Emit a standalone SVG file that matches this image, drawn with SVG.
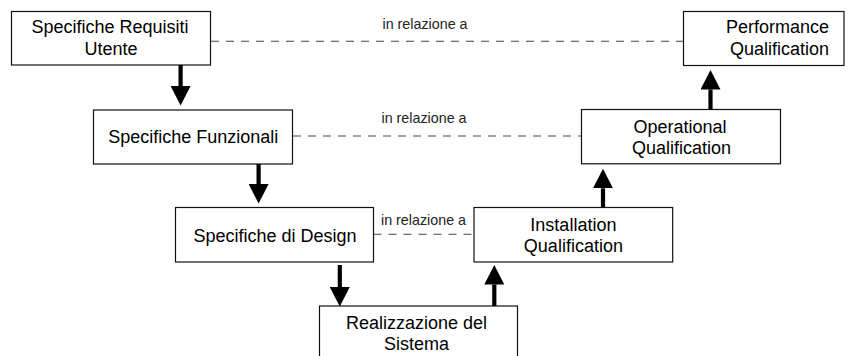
<svg xmlns="http://www.w3.org/2000/svg" width="863" height="356" viewBox="0 0 863 356">
<style>
.box{fill:#fff;stroke:#111;stroke-width:1.2}
.t{font-family:"Liberation Sans",Arial,Helvetica,sans-serif;font-size:18px;fill:#000;text-anchor:middle}
.lbl{font-family:"Liberation Sans",Arial,Helvetica,sans-serif;font-size:14.3px;fill:#222;text-anchor:middle}
.dash{stroke:#444;stroke-width:1.1;stroke-dasharray:8 7;fill:none}
.arr{stroke:#000;stroke-width:4.2;fill:none;marker-end:url(#ah)}
</style>
<defs>
<marker id="ah" viewBox="0 0 20 20" refX="0" refY="10" markerWidth="20" markerHeight="20" markerUnits="userSpaceOnUse" orient="auto">
<path d="M0,0 L19.5,10 L0,20 z" fill="#000"/>
</marker>
</defs>
<rect width="863" height="356" fill="#fff"/>
<g id="connectors">
<line class="dash" x1="211" y1="41.3" x2="683.5" y2="41.3"/>
<text class="lbl" x="425" y="29">in relazione a</text>
<line class="dash" x1="293" y1="136" x2="581.5" y2="136"/>
<text class="lbl" x="424" y="123">in relazione a</text>
<line class="dash" x1="373.5" y1="234.3" x2="474" y2="234.3"/>
<text class="lbl" x="423.5" y="225">in relazione a</text>
<line class="arr" x1="180.6" y1="65" x2="180.6" y2="86"/>
<line class="arr" x1="258.6" y1="164" x2="258.6" y2="184"/>
<line class="arr" x1="339.8" y1="265" x2="339.8" y2="287"/>
<line class="arr" x1="494.3" y1="306" x2="494.3" y2="284.5"/>
<line class="arr" x1="603" y1="207.5" x2="603" y2="188.3"/>
<line class="arr" x1="710.5" y1="109.5" x2="710.5" y2="89.5"/>
</g>
<g id="n1">
<rect class="box" x="11.5" y="11.5" width="199" height="53.5"/>
<text class="t" x="110" y="33.3">Specifiche Requisiti</text>
<text class="t" x="111" y="55">Utente</text>
</g>
<g id="n2">
<rect class="box" x="93.5" y="110" width="199" height="54"/>
<text class="t" x="193.3" y="143">Specifiche Funzionali</text>
</g>
<g id="n3">
<rect class="box" x="175.5" y="207.5" width="198" height="54.5"/>
<text class="t" x="275" y="241.7">Specifiche di Design</text>
</g>
<g id="n4">
<rect class="box" x="319.5" y="306" width="198" height="70"/>
<text class="t" x="416.5" y="329">Realizzazione del</text>
<text class="t" x="416.5" y="349.5">Sistema</text>
</g>
<g id="n5">
<rect class="box" x="474" y="207.5" width="198.7" height="54.5"/>
<text class="t" x="573.4" y="230.5">Installation</text>
<text class="t" x="573.4" y="251.7">Qualification</text>
</g>
<g id="n6">
<rect class="box" x="581.5" y="109.5" width="199" height="54.3"/>
<text class="t" x="680" y="132.5">Operational</text>
<text class="t" x="681.5" y="153.5">Qualification</text>
</g>
<g id="n7">
<rect class="box" x="683.5" y="11.5" width="160.5" height="54"/>
<text class="t" x="777.5" y="33.3">Performance</text>
<text class="t" x="779.5" y="54.5">Qualification</text>
</g>
</svg>
